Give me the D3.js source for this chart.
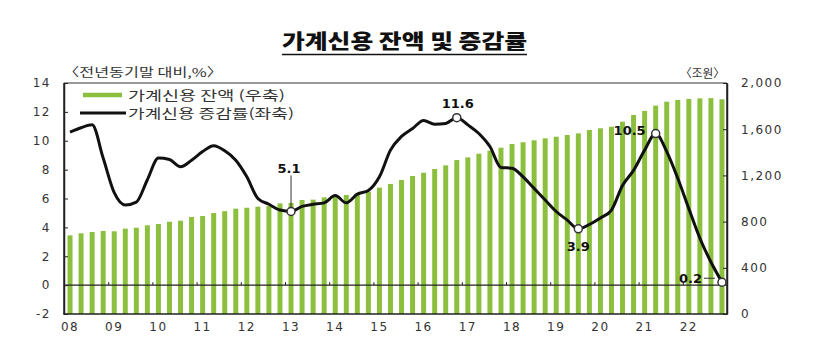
<!DOCTYPE html>
<html><head><meta charset="utf-8">
<script src="https://cdn.jsdelivr.net/npm/d3@7/dist/d3.min.js"></script>
<style>
body{margin:0;background:#fff;}
svg{display:block;}
</style></head>
<body><svg id="c" width="825" height="358"></svg>
<script>
// ---- data ----
const years = ["08","09","10","11","12","13","14","15","16","17","18","19","20","21","22"];
const quarterNames = ["Q1","Q2","Q3","Q4"];
const quarters = years.flatMap(y => quarterNames.map(q => y + q));
// 가계신용 잔액 (조원, right axis)
const balance = [681,699,710,719,716,739,747,768,779,799,808,840,848,874,890,
  912,920,929,935,958,962,987,990,1010,1022,1030,1045,1059,1094,1126,
  1160,1195,1223,1255,1287,1333,1356,1388,1414,1440,1472,1487,1504,1521,1535,
  1550,1564,1593,1608,1622,1665,1723,1758,1804,1838,1853,1862,1867,1869,1859];
// 가계신용 증감률 (%, left axis)
const growth = [10.6,10.9,11.1,8.8,6.4,5.55,5.75,7.3,8.8,8.7,8.2,8.65,9.25,9.65,9.3,
  8.65,7.5,6.0,5.6,5.2,5.1,5.45,5.6,5.7,6.2,5.7,6.3,6.55,7.5,9.35,
  10.3,10.85,11.4,11.15,11.2,11.6,11.1,10.5,9.6,8.15,8.1,7.5,6.7,5.9,5.1,
  4.5,3.9,4.2,4.65,5.2,6.9,7.95,9.35,10.5,9.25,7.4,5.3,3.25,1.6,0.2];
const leftTicks = [-2,0,2,4,6,8,10,12,14];
const rightTicks = [0,400,800,1200,1600,2000];
const markedQuarters = ["13Q1","16Q4","19Q3","21Q2","22Q4"];
const markedLabels = ["5.1","11.6","3.9","10.5","0.2"];
const title = "가계신용 잔액 및 증감률";
const leftUnit = "〈전년동기말 대비,%〉";
const rightUnit = "〈조원〉";
const legendNames = ["가계신용 잔액 (우축)", "가계신용 증감률(좌축)"];

// ---- chart ----
const svg = d3.select("#c");
const L = 64, R = 727, T = 83, B = 314;
const green = "#8cbf3e";
const numFont = "DejaVu Sans";
const krFont = "Noto Sans CJK KR";

const x = d3.scaleBand().domain(quarters).range([64.5, 727.5]).paddingInner(0.55).paddingOuter(0.275);
const yL = d3.scaleLinear().domain([-2, 14]).range([B, T]);
const yR = d3.scaleLinear().domain([0, 2000]).range([B, T]);

// title
svg.append("text").attr("x", 282).attr("y", 49)
  .attr("textLength", 245).attr("lengthAdjust", "spacingAndGlyphs")
  .attr("font-family", krFont).attr("font-weight", 900).attr("font-size", 20)
  .attr("fill", "#111").text(title);
svg.append("line").attr("x1", 282).attr("x2", 527).attr("y1", 54.5).attr("y2", 54.5)
  .attr("stroke", "#111").attr("stroke-width", 1.5);

// units
svg.append("text").attr("x", 63).attr("y", 77).attr("textLength", 160).attr("lengthAdjust", "spacingAndGlyphs")
  .attr("font-family", krFont).attr("font-size", 12).attr("fill", "#333").text(leftUnit);
svg.append("text").attr("x", 680).attr("y", 78).attr("textLength", 45).attr("lengthAdjust", "spacingAndGlyphs")
  .attr("font-family", krFont).attr("font-size", 12).attr("fill", "#333").text(rightUnit);

// bars
svg.append("g").selectAll("rect").data(quarters).join("rect")
  .attr("x", d => x(d)).attr("width", x.bandwidth())
  .attr("y", (d, i) => yR(balance[i])).attr("height", (d, i) => B - yR(balance[i]))
  .attr("fill", green);

// top frame line
svg.append("line").attr("x1", L).attr("x2", R).attr("y1", T).attr("y2", T)
  .attr("stroke", "#777").attr("stroke-width", 1.5);

// zero line + year boundary ticks
svg.append("line").attr("x1", L).attr("x2", R).attr("y1", yL(0)).attr("y2", yL(0))
  .attr("stroke", "#222").attr("stroke-width", 1.2);
const gap = (x.step() - x.bandwidth()) / 2;
svg.append("g").selectAll("line").data(years.slice(1)).join("line")
  .attr("x1", d => x(d + "Q1") - gap).attr("x2", d => x(d + "Q1") - gap)
  .attr("y1", yL(0)).attr("y2", yL(0) - 3).attr("stroke", "#222").attr("stroke-width", 1);

// axes
function styleAxis(g) {
  g.select(".domain").attr("stroke", "#222").attr("stroke-width", 1.5);
  g.selectAll(".tick line").attr("stroke", "#222");
  g.selectAll("text").attr("font-family", numFont).attr("font-size", 12)
    .attr("letter-spacing", 1.5).attr("fill", "#333");
}
svg.append("g").attr("transform", `translate(${L},0)`)
  .call(d3.axisLeft(yL).tickValues(leftTicks).tickSize(-4).tickPadding(13).tickSizeOuter(0).tickFormat(d => d < 0 ? "-" + Math.abs(d) : d))
  .call(styleAxis);
svg.append("g").attr("transform", `translate(${R},0)`)
  .call(d3.axisRight(yR).tickValues(rightTicks).tickSize(-4).tickPadding(14).tickSizeOuter(0).tickFormat(d3.format(",")))
  .call(styleAxis);
svg.append("g").attr("transform", `translate(0,${B})`)
  .call(d3.axisBottom(x).tickValues(years.map(y => y + "Q1")).tickFormat(d => d.slice(0, 2)).tickSize(0).tickPadding(8))
  .call(g => { styleAxis(g); g.select(".domain").attr("d", `M${L - 0.75},0H${R + 0.75}`); });
// left/right axis domain fix to span full
svg.append("line").attr("x1", L).attr("x2", L).attr("y1", T).attr("y2", B).attr("stroke", "#222").attr("stroke-width", 1.5);
svg.append("line").attr("x1", R).attr("x2", R).attr("y1", T).attr("y2", B).attr("stroke", "#222").attr("stroke-width", 1.5);

// growth line
const cx = q => x(q) + x.bandwidth() / 2;
const line = d3.line().x((d, i) => cx(quarters[i])).y(d => yL(d)).curve(d3.curveMonotoneX);
svg.append("path").datum(growth).attr("d", line).attr("fill", "none")
  .attr("stroke", "#111").attr("stroke-width", 3).attr("stroke-linejoin", "round");

// markers and labels
const marks = markedQuarters.map((q, k) => ({ q, label: markedLabels[k], v: growth[quarters.indexOf(q)] }));
const labelFont = g => g.attr("font-family", numFont).attr("font-weight", "bold").attr("font-size", 13).attr("fill", "#111");
marks.forEach((m, k) => {
  const px = cx(m.q), py = yL(m.v);
  if (k === 0) {
    svg.append("line").attr("x1", px).attr("x2", px).attr("y1", py - 36).attr("y2", py - 4)
      .attr("stroke", "#333").attr("stroke-width", 1);
    svg.append("text").attr("x", px - 2).attr("y", py - 38).attr("text-anchor", "middle").call(labelFont).text(m.label);
  } else if (k === 1) {
    svg.append("text").attr("x", px + 1).attr("y", py - 10).attr("text-anchor", "middle").call(labelFont).text(m.label);
  } else if (k === 2) {
    svg.append("text").attr("x", px).attr("y", py + 22).attr("text-anchor", "middle").call(labelFont).text(m.label);
  } else if (k === 3) {
    svg.append("text").attr("x", px - 10).attr("y", py + 1).attr("text-anchor", "end").call(labelFont).text(m.label);
  } else {
    svg.append("line").attr("x1", px - 18).attr("x2", px - 7).attr("y1", py - 4).attr("y2", py - 4)
      .attr("stroke", "#333").attr("stroke-width", 1);
    svg.append("text").attr("x", px - 20).attr("y", py + 1).attr("text-anchor", "end").call(labelFont).text(m.label);
  }
  svg.append("circle").attr("cx", px).attr("cy", py).attr("r", 4)
    .attr("fill", "#fff").attr("stroke", "#333").attr("stroke-width", 1.5);
});

// legend
svg.append("line").attr("x1", 83).attr("x2", 122).attr("y1", 95).attr("y2", 95)
  .attr("stroke", green).attr("stroke-width", 4.5);
svg.append("line").attr("x1", 80).attr("x2", 126).attr("y1", 113).attr("y2", 113)
  .attr("stroke", "#111").attr("stroke-width", 3);
svg.append("text").attr("x", 128).attr("y", 100).attr("textLength", 157).attr("lengthAdjust", "spacingAndGlyphs")
  .attr("font-family", krFont).attr("font-size", 13).attr("fill", "#333").text(legendNames[0]);
svg.append("text").attr("x", 128).attr("y", 118).attr("textLength", 166).attr("lengthAdjust", "spacingAndGlyphs")
  .attr("font-family", krFont).attr("font-size", 13).attr("fill", "#333").text(legendNames[1]);
</script></body></html>
